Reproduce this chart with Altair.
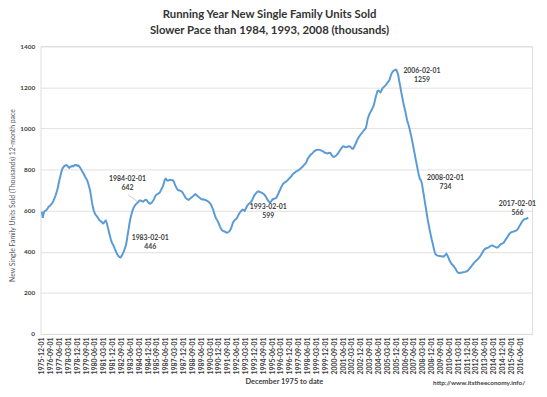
import altair as alt
import pandas as pd

# ---------------- data (thousands, running 12-month total) ----------------
S1975 = [595]
S1976 = [565, 590, 598, 600, 605, 612, 620, 622, 628, 633, 640, 650]
S1977 = [662, 675, 690, 705, 730, 752, 770, 790, 805, 812, 818, 820]
S1978 = [822, 818, 812, 808, 814, 815, 818, 816, 820, 822, 822, 818]
S1979 = [820, 815, 810, 800, 792, 785, 775, 765, 757, 748, 735, 718]
S1980 = [700, 670, 640, 615, 598, 585, 578, 572, 565, 558, 552, 548]
S1981 = [545, 538, 540, 548, 552, 540, 520, 500, 480, 462, 446, 437]
S1982 = [428, 415, 405, 394, 385, 378, 374, 373, 380, 388, 398, 412]
S1983 = [425, 446, 475, 505, 535, 562, 580, 598, 612, 620, 628, 633]
S1984 = [638, 642, 648, 650, 648, 645, 644, 648, 652, 653, 648, 640]
S1985 = [636, 634, 636, 642, 648, 656, 668, 676, 680, 682, 685, 690]
S1986 = [700, 710, 718, 735, 752, 756, 748, 746, 748, 750, 749, 748]
S1987 = [748, 742, 730, 718, 710, 702, 699, 698, 696, 694, 688, 680]
S1988 = [672, 662, 658, 655, 653, 656, 660, 664, 668, 672, 677, 680]
S1989 = [676, 672, 668, 664, 660, 656, 655, 656, 654, 652, 650, 648]
S1990 = [645, 640, 636, 628, 617, 605, 590, 575, 562, 555, 545, 535]
S1991 = [522, 512, 505, 502, 500, 498, 495, 493, 494, 498, 503, 512]
S1992 = [525, 540, 548, 555, 558, 562, 572, 582, 590, 596, 601, 605]
S1993 = [603, 599, 608, 618, 626, 632, 636, 640, 646, 655, 666, 676]
S1994 = [682, 688, 692, 694, 692, 690, 688, 686, 682, 678, 672, 664]
S1995 = [655, 648, 642, 640, 645, 652, 657, 658, 660, 662, 670, 680]
S1996 = [692, 702, 712, 722, 730, 735, 738, 741, 745, 750, 756, 760]
S1997 = [765, 772, 778, 782, 786, 790, 792, 795, 798, 802, 806, 810]
S1998 = [815, 820, 826, 830, 840, 852, 860, 866, 872, 876, 880, 886]
S1999 = [890, 893, 895, 896, 897, 896, 895, 892, 890, 888, 884, 882]
S2000 = [880, 878, 880, 882, 881, 874, 866, 861, 862, 865, 868, 874]
S2001 = [880, 888, 894, 902, 908, 913, 912, 910, 909, 910, 912, 914]
S2002 = [912, 908, 903, 901, 908, 918, 928, 940, 950, 958, 965, 972]
S2003 = [978, 984, 990, 995, 1000, 1020, 1045, 1060, 1072, 1082, 1090, 1100]
S2004 = [1110, 1130, 1150, 1168, 1182, 1184, 1180, 1176, 1185, 1195, 1200, 1205]
S2005 = [1210, 1216, 1222, 1228, 1235, 1250, 1265, 1274, 1280, 1283, 1285, 1286]
S2006 = [1275, 1259, 1232, 1208, 1180, 1155, 1130, 1108, 1088, 1065, 1040, 1025]
S2007 = [1008, 988, 968, 945, 920, 895, 870, 845, 820, 795, 772, 755]
S2008 = [748, 734, 705, 675, 645, 615, 585, 555, 530, 505, 482, 460]
S2009 = [440, 418, 400, 388, 383, 381, 380, 379, 378, 378, 377, 376]
S2010 = [380, 386, 390, 382, 372, 360, 350, 342, 337, 332, 325, 320]
S2011 = [310, 302, 298, 297, 298, 298, 299, 300, 301, 302, 304, 306]
S2012 = [310, 316, 322, 328, 334, 340, 346, 351, 356, 360, 365, 370]
S2013 = [376, 384, 392, 400, 408, 413, 416, 418, 419, 422, 426, 429]
S2014 = [430, 430, 427, 425, 423, 421, 421, 425, 431, 436, 439, 441]
S2015 = [444, 450, 458, 465, 472, 480, 487, 492, 495, 497, 498, 500]
S2016 = [502, 504, 507, 515, 524, 532, 540, 548, 554, 558, 560, 561]
S2017 = [563, 566]

SERIES = (S1975 + S1976 + S1977 + S1978 + S1979 + S1980 + S1981 + S1982 + S1983
          + S1984 + S1985 + S1986 + S1987 + S1988 + S1989 + S1990 + S1991 + S1992
          + S1993 + S1994 + S1995 + S1996 + S1997 + S1998 + S1999 + S2000 + S2001
          + S2002 + S2003 + S2004 + S2005 + S2006 + S2007 + S2008 + S2009 + S2010
          + S2011 + S2012 + S2013 + S2014 + S2015 + S2016 + S2017)

DATES = [d.strftime("%Y-%m-%d") for d in pd.date_range("1975-12-01", periods=len(SERIES), freq="MS")]
TICK_DATES = list(pd.date_range("1975-12-01", "2016-06-01", freq="9MS"))

ANN_DATES = ["1984-02-01", "1983-02-01", "1993-02-01", "2006-02-01", "2008-02-01", "2017-02-01"]
ANN_VALUES = [642, 446, 599, 1259, 734, 566]

TITLE = ["Running Year New Single Family Units Sold", "Slower Pace than 1984, 1993, 2008 (thousands)"]
Y_TITLE = "New Single Family Units Sold (Thousands) 12-month pace"
X_TITLE = "December 1975 to date"
FOOTER = "http://www.itstheeconomy.info/"

# ---------------- layout / style ----------------
FONT = "Lato"
BLUE = "#5B9BD5"
TXT = "#404040"
W, H = 499, 292
# label offsets (dx, dy of first line) for each annotation
ANN_OFFSETS = [(-11, -23), (24, -4), (24, -4), (24, -4), (24, -5), (-11, -14)]

df = pd.DataFrame({"date": DATES, "value": SERIES})

x_scale = alt.Scale(type="utc", domain=[alt.DateTime(year=1975, month=10, date=22, utc=True),
                                        alt.DateTime(year=2017, month=6, date=1, utc=True)])
y_scale = alt.Scale(domain=[0, 1400])

tick_vals = [alt.DateTime(year=t.year, month=t.month, date=1, utc=True) for t in TICK_DATES]

X_ENC = alt.X("date:T", scale=x_scale,
              axis=alt.Axis(values=tick_vals, format="%Y-%m-%d", labelAngle=-90, labelOverlap=False,
                            labelFlush=False, labelBound=False, ticks=False, domain=False, grid=False,
                            labelFont=FONT, labelFontSize=7, labelFontWeight="bold", labelColor=TXT,
                            labelPadding=3, title=X_TITLE, titleFont=FONT, titleFontSize=7.5,
                            titleFontWeight="bold", titleColor=TXT, titleX=247, titleY=48,
                            titleBaseline="middle", titleAnchor="middle"))
Y_ENC = alt.Y("value:Q", scale=y_scale,
              axis=alt.Axis(values=list(range(0, 1401, 200)), format="d", ticks=False, domain=False,
                            gridColor="#D9D9D9", gridWidth=0.8,
                            labelFont=FONT, labelFontSize=6.5, labelFontWeight="bold", labelColor=TXT,
                            labelPadding=6, title=Y_TITLE, titleFont=FONT, titleFontSize=7,
                            titleFontWeight="normal", titleColor="#595959", titleX=-28, titleY=151,
                            titleAngle=270, titleBaseline="middle", titleAnchor="middle"))

line = alt.Chart(df).mark_line(color=BLUE, strokeWidth=2).encode(x=X_ENC, y=Y_ENC)

layers = [line]
for (d, v), (dx, dy) in zip(zip(ANN_DATES, ANN_VALUES), ANN_OFFSETS):
    adf = pd.DataFrame({"date": [d], "value": [v], "label": [d], "num": [str(v)]})
    base = alt.Chart(adf)
    layers.append(base.mark_text(font=FONT, fontSize=7, fontWeight="bold", color=TXT,
                                 dx=dx, dy=dy, baseline="middle").encode(x=X_ENC, y=Y_ENC, text="label:N"))
    layers.append(base.mark_text(font=FONT, fontSize=7, fontWeight="bold", color=TXT,
                                 dx=dx, dy=dy + 9, baseline="middle").encode(x=X_ENC, y=Y_ENC, text="num:N"))

# leader line for the 1984-02 label
lead_df = pd.DataFrame({"date": [ANN_DATES[0]], "value": [ANN_VALUES[0]]})
layers.append(alt.Chart(lead_df).mark_rule(color="#A6A6A6", strokeWidth=0.6).encode(
    x=X_ENC, y=Y_ENC, x2=alt.value(89), y2=alt.value(151)))

footer = alt.Chart(pd.DataFrame({"t": [FOOTER]})).mark_text(
    font=FONT, fontSize=6.5, fontWeight="bold", color=TXT, align="right", baseline="middle"
).encode(x=alt.value(492), y=alt.value(342), text="t:N")
layers.append(footer)

chart = alt.layer(*layers).properties(
    width=W, height=H,
    title=alt.TitleParams(text=TITLE, font=FONT, fontSize=11.5, fontWeight="bold", color="#333333",
                          anchor="middle", dx=-17, offset=7, lineHeight=16),
    autosize=alt.AutoSizeParams(type="none"),
    padding={"left": 33, "top": 36, "right": 7, "bottom": 53},
).configure_view(stroke=None).configure(background="white")

chart.save("out.html", embed_options={"renderer": "svg", "actions": False})
